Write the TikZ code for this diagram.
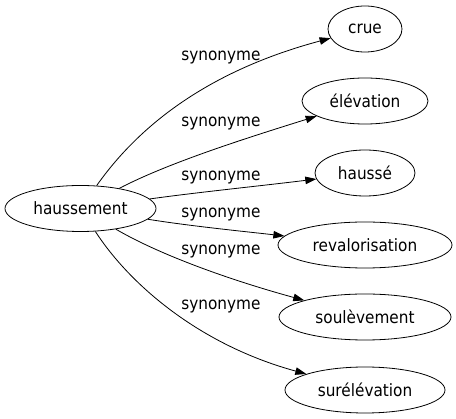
\documentclass[tikz,border=0pt]{standalone}
\usepackage{fontspec}
\setmainfont{DejaVu Sans Condensed}
\usetikzlibrary{shapes.geometric,arrows.meta}
\begin{document}
\begin{tikzpicture}[x=1pt,y=-1pt,
  word/.style={draw,ellipse,line width=0.8pt,inner sep=0pt,minimum height=46pt,font=\fontsize{17}{20}\selectfont},
  rel/.style={line width=0.8pt,-{Triangle[length=11pt,width=7.5pt]}},
  lab/.style={font=\fontsize{17}{20}\selectfont,inner sep=0pt}]
\useasboundingbox (0,0) rectangle (456,419);
\node[word,minimum width=151pt] (h) at (80.5,208.5) {haussement};
\node[word,minimum width=74pt] (crue) at (365,29) {crue};
\node[word,minimum width=126pt] (elev) at (365,101) {élévation};
\node[word,minimum width=100pt] (hausse) at (365,173) {haussé};
\node[word,minimum width=174pt] (reval) at (365,245) {revalorisation};
\node[word,minimum width=172pt] (soul) at (365,317) {soulèvement};
\node[word,minimum width=160pt] (surel) at (365,390) {surélévation};
\draw[rel] (h) .. controls (150,110) and (230,65) .. (crue);
\draw[rel] (h) .. controls (170,162) and (250,137) .. (elev);
\draw[rel] (h) .. controls (200,192) and (260,186) .. (hausse);
\draw[rel] (h) .. controls (190,226) and (240,231) .. (reval);
\draw[rel] (h) .. controls (160,255) and (230,280) .. (soul);
\draw[rel] (h) .. controls (130,285) and (200,345) .. (surel);
\node[lab] (l1) at (221,58) {synonyme};
\node[lab] (l2) at (221,124) {synonyme};
\node[lab] (l3) at (221,178) {synonyme};
\node[lab] (l4) at (221,215) {synonyme};
\node[lab] (l5) at (221,252) {synonyme};
\node[lab] (l6) at (221,307) {synonyme};
\end{tikzpicture}
\end{document}
